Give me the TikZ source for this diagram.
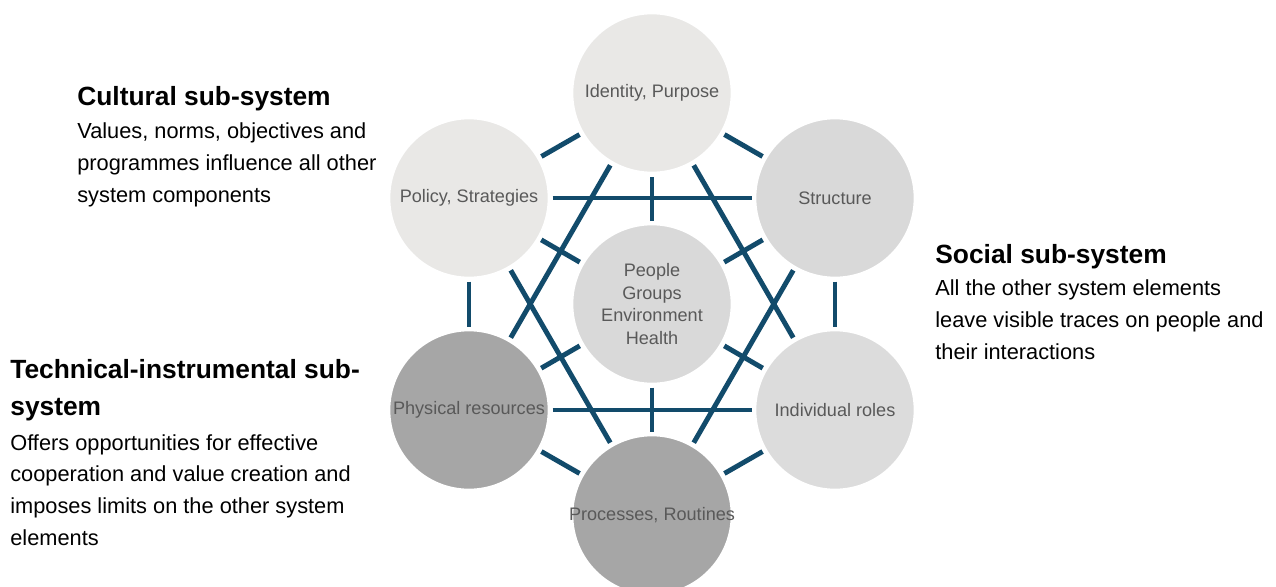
\documentclass[tikz,border=0pt]{standalone}
\usepackage{fontspec}
\setmainfont{Liberation Sans}
\definecolor{linkblue}{HTML}{124B6B}
\definecolor{palegray}{HTML}{E9E8E6}
\definecolor{midgray}{HTML}{D9D9D9}
\definecolor{lightgray2}{HTML}{DCDCDC}
\definecolor{deepgray}{HTML}{A6A6A6}
\definecolor{labelgray}{HTML}{595959}

\begin{document}
\begin{tikzpicture}
    [
    x=0.02cm, y=-0.02cm,
    part/.style={circle,draw=white,line width=1.5pt,minimum size=3.2cm,inner sep=-10pt,
        outer sep=2pt,align=center,text=labelgray,font=\fontsize{10.3}{13}\selectfont},
    link/.style={draw=linkblue,line width=2.8pt},
    head/.style={anchor=base west,inner sep=0pt,align=left,
        font=\fontsize{15}{21}\selectfont\bfseries},
    body/.style={anchor=base west,inner sep=0pt,align=left,
        font=\fontsize{12.4}{18}\selectfont}
    ]
    \useasboundingbox (0,0) rectangle (1276,586);

    \node (ppl) at (652,304) [part, fill=midgray] {People\\Groups\\Environment\\Health};
    \node (idn) at (652,93) [part, fill=palegray] {Identity, Purpose};
    \node (pol) at (469,198) [part, fill=palegray] {Policy, Strategies};
    \node (str) at (835,198) [part, fill=midgray] {Structure};
    \node (phy) at (469,410) [part, fill=deepgray] {Physical resources};
    \node (ind) at (835,410) [part, fill=lightgray2] {Individual roles};
    \node (pro) at (652,515) [part, fill=deepgray] {Processes, Routines};

    \draw [link] (idn) to (pol);
    \draw [link] (idn) to (str);
    \draw [link] (pol) to (phy);
    \draw [link] (str) to (ind);
    \draw [link] (phy) to (pro);
    \draw [link] (ind) to (pro);

    \draw [link] (pol) to (str);
    \draw [link] (phy) to (ind);
    \draw [link] (idn) to (phy);
    \draw [link] (idn) to (ind);
    \draw [link] (pol) to (pro);
    \draw [link] (str) to (pro);

    \draw [link] (ppl) to (idn);
    \draw [link] (ppl) to (pol);
    \draw [link] (ppl) to (str);
    \draw [link] (ppl) to (phy);
    \draw [link] (ppl) to (ind);
    \draw [link] (ppl) to (pro);

    % base of a multi-line node is its last line
    \node (cult) at (77,105) [head] {Cultural sub-system};
    \node (cultx) at (77,202) [body] {Values, norms, objectives and\\programmes influence all other\\system components};

    \node (soc) at (935,263) [head] {Social sub-system};
    \node (socx) at (935,359) [body] {All the other system elements\\leave visible traces on people and\\their interactions};

    \node (tech) at (10,415) [head] {Technical-instrumental sub-\\system};
    \node (techx) at (10,545) [body] {Offers opportunities for effective\\cooperation and value creation and\\imposes limits on the other system\\elements};
\end{tikzpicture}
\end{document}
